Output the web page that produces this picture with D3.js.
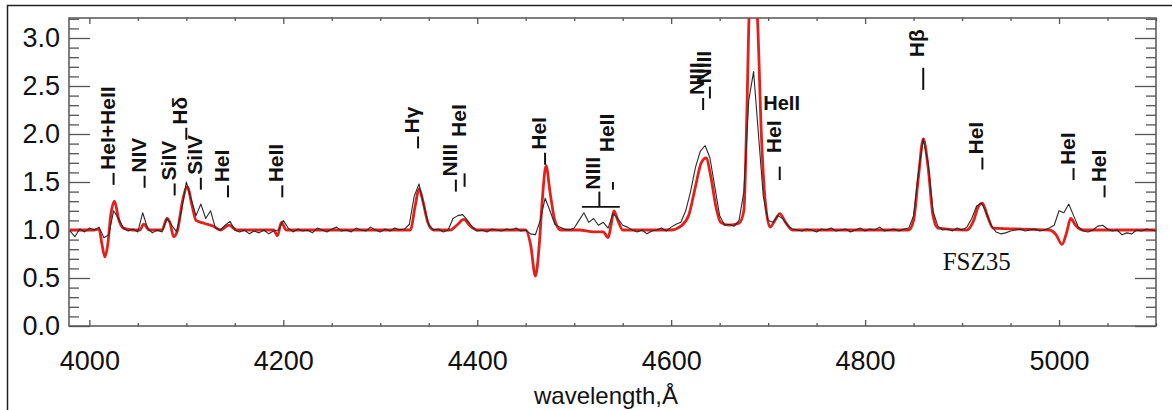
<!DOCTYPE html>
<html>
<head>
<meta charset="utf-8">
<script src="https://cdn.jsdelivr.net/npm/d3@7"></script>
<style>
  body { margin: 0; background: #fff; }
  svg { display: block; }
</style>
</head>
<body>
<div id="chart"></div>
<script>
// observed spectrum (black), 5 A steps
const obsWave = d3.range(3980, 5101, 5);
const obsFlux = [
  0.99, 0.93, 1.01, 0.98, 1.02, 1.00, 1.03, 0.92, 0.95, 1.20,
  1.12, 1.02, 0.99, 1.01, 0.98, 1.18, 1.02, 0.97, 1.00, 0.98,
  1.12, 1.05, 0.98, 1.20, 1.50, 1.32, 1.15, 1.27, 1.12, 1.20,
  1.02, 1.00, 1.05, 1.09, 1.00, 0.98, 1.00, 0.96, 0.99, 0.97,
  1.00, 0.96, 0.99, 1.00, 1.10, 1.02, 0.98, 1.01, 0.99, 1.00,
  0.97, 1.02, 1.00, 0.98, 1.01, 1.03, 0.99, 1.00, 0.98, 1.02,
  1.00, 0.99, 1.03, 1.00, 0.98, 1.01, 0.99, 1.02, 1.00, 1.01,
  1.06, 1.35, 1.48, 1.25, 1.05, 1.00, 1.01, 0.98, 1.00, 1.12,
  1.15, 1.16, 1.10, 1.03, 0.99, 1.00, 0.98, 1.01, 1.00, 0.99,
  1.01, 1.00, 1.02, 0.99, 1.00, 0.96, 0.95, 1.10, 1.33, 1.20,
  1.06, 1.03, 1.01, 1.00, 1.02, 1.10, 1.18, 1.08, 1.12, 1.05,
  1.08, 1.02, 1.17, 1.12, 1.05, 1.03, 1.00, 0.98, 1.00, 0.96,
  0.99, 1.00, 1.02, 0.99, 1.03, 1.06, 1.08, 1.20, 1.40, 1.65,
  1.82, 1.88, 1.75, 1.45, 1.15, 1.05, 1.06, 1.04, 1.10, 1.40,
  2.35, 2.65, 2.00, 1.35, 1.10, 1.08, 1.15, 1.12, 1.05, 1.01,
  1.00, 0.99, 1.01, 1.00, 0.98, 1.01, 1.00, 1.02, 0.99, 1.00,
  1.01, 0.98, 1.00, 1.02, 0.99, 1.01, 1.00, 1.03, 0.99, 1.00,
  1.01, 0.99, 1.01, 1.02, 1.15, 1.60, 1.95, 1.70, 1.20, 1.04,
  1.00, 1.01, 0.99, 1.02, 1.00, 1.03, 1.12, 1.25, 1.28, 1.18,
  1.05, 0.98, 0.96, 0.97, 0.99, 1.00, 1.01, 0.99, 1.00, 1.01,
  0.99, 1.00, 1.02, 1.05, 1.20, 1.18, 1.27, 1.15, 1.03, 0.99,
  0.98, 1.00, 1.04, 1.05, 1.01, 0.99, 1.00, 0.95, 0.97, 0.96,
  1.00, 0.99, 1.01, 1.00, 0.99
];

// model spectrum (red)
const modelWave = [
  3980, 4005, 4010, 4013, 4016, 4019, 4022, 4026, 4030, 4035,
  4045, 4052, 4056, 4062, 4075, 4080, 4083, 4087, 4091, 4096,
  4101, 4106, 4110, 4118, 4128, 4135, 4144, 4152, 4190, 4194,
  4198, 4203, 4325, 4331, 4336, 4340, 4344, 4349, 4355, 4372,
  4380, 4386, 4393, 4400, 4450, 4455, 4460, 4464, 4467, 4471,
  4475, 4480, 4486, 4505, 4520, 4530, 4535, 4538, 4541, 4545,
  4550, 4600, 4610, 4618, 4625, 4631, 4636, 4641, 4646, 4651,
  4660, 4670, 4675, 4678, 4681, 4685, 4689, 4693, 4697, 4702,
  4707, 4712, 4718, 4725, 4845, 4850, 4855, 4860, 4865, 4870,
  4875, 4905, 4912, 4917, 4921, 4926, 4932, 4990, 4997, 5003,
  5008, 5012, 5017, 5025, 5100
];
const modelFlux = [
  1.00, 1.00, 1.01, 0.85, 0.72, 0.85, 1.15, 1.30, 1.12, 1.02,
  1.00, 1.00, 1.06, 1.00, 1.00, 1.12, 1.08, 0.93, 1.00, 1.30,
  1.45, 1.25, 1.10, 1.07, 1.04, 1.00, 1.05, 1.00, 1.00, 0.94,
  1.08, 1.00, 1.00, 1.00, 1.25, 1.43, 1.30, 1.08, 1.00, 1.00,
  1.06, 1.11, 1.04, 1.00, 1.00, 0.85, 0.52, 0.85, 1.30, 1.67,
  1.40, 1.10, 1.00, 1.00, 0.98, 0.98, 0.92, 1.05, 1.20, 1.10,
  1.00, 1.00, 1.04, 1.15, 1.45, 1.70, 1.75, 1.55, 1.25, 1.08,
  1.05, 1.07, 1.20, 2.20, 3.40, 3.60, 3.20, 2.00, 1.30, 1.03,
  1.10, 1.17, 1.08, 1.00, 1.00, 1.10, 1.55, 1.95, 1.65, 1.15,
  1.02, 1.00, 1.10, 1.25, 1.28, 1.15, 1.02, 1.00, 0.95, 0.85,
  0.98, 1.12, 1.05, 1.00, 1.00
];

// line identifications (rotated); base = flux level where the label starts,
// hasTick = 1 when a short bar sits right under the text
const labelText = ["HeI+HeII", "NIV", "SiIV", "H\u03B4", "SiIV", "HeI", "HeII",
  "H\u03B3", "NIII", "HeI", "HeI", "NIII", "HeII", "NIII", "NIII", "HeI",
  "H\u03B2", "HeI", "HeI", "HeI"];
const labelWave = [4026, 4058, 4089, 4101, 4116, 4144, 4200,
  4340, 4379, 4388, 4471, 4527, 4541, 4634, 4641, 4713,
  4861, 4922, 5016, 5048];
const labelBase = [1.47, 1.44, 1.36, 1.94, 1.42, 1.34, 1.34,
  1.85, 1.40, 1.97, 1.68, 1.42, 1.81, 2.25, 2.37, 1.80,
  2.80, 1.63, 1.52, 1.34];
const labelTick = [1, 1, 1, 1, 1, 1, 1,
  1, 1, 0, 1, 0, 0, 1, 1, 0,
  0, 1, 1, 1];

// separate marker ticks [wave, low, high]
const markWave = [4388, 4541, 4713, 4861, 4527];
const markLow = [1.45, 1.42, 1.52, 2.46, 1.24];
const markHigh = [1.59, 1.50, 1.66, 2.69, 1.40];
// NIII blend bracket
const bracketWave = [4508, 4547];
const bracketFlux = 1.24;

const xTicks = [4000, 4200, 4400, 4600, 4800, 5000];
const yTicks = [0.0, 0.5, 1.0, 1.5, 2.0, 2.5, 3.0];

const W = 1172, H = 410;
const svg = d3.select("#chart").append("svg")
    .attr("width", W)
    .attr("height", H);

const x = d3.scaleLinear().domain([3979, 5100]).range([69, 1156]);
const y = d3.scaleLinear().domain([0, 3.2]).range([326, 18.8]);

// outer frame (left + top)
svg.append("path")
    .attr("d", "M7.5," + H + "V5.5H" + W)
    .attr("fill", "none")
    .attr("stroke", "#222")
    .attr("stroke-width", 1.5);

svg.append("defs").append("clipPath").attr("id", "clip")
    .append("rect")
    .attr("x", 69).attr("y", 18)
    .attr("width", 1156 - 69).attr("height", 326 - 18);

const axisColor = "#555";
function styleAxis(g) {
    g.select(".domain").remove();
    g.selectAll(".tick line").attr("stroke", axisColor).attr("stroke-width", 1.3);
    g.selectAll("text").attr("fill", "#111")
        .style("font-family", "'Liberation Sans', Arial, sans-serif")
        .style("font-size", "27px");
}

const yMinor = d3.range(0, 3.21, 0.1).filter(v => Math.abs(v * 2 - Math.round(v * 2)) > 0.01);
const xMinor = d3.range(4000, 5101, 50).filter(v => v % 200 !== 0);

// left axis
svg.append("g").attr("transform", "translate(69,0)")
    .call(d3.axisLeft(y).tickValues(yTicks).tickFormat(d3.format(".1f")).tickSize(-21).tickPadding(9))
    .call(styleAxis);
svg.append("g").attr("transform", "translate(69,0)")
    .call(d3.axisLeft(y).tickValues(yMinor).tickFormat("").tickSize(-10))
    .call(styleAxis);
// right axis
svg.append("g").attr("transform", "translate(1156,0)")
    .call(d3.axisRight(y).tickValues(yTicks).tickFormat("").tickSize(-21))
    .call(styleAxis);
svg.append("g").attr("transform", "translate(1156,0)")
    .call(d3.axisRight(y).tickValues(yMinor).tickFormat("").tickSize(-10))
    .call(styleAxis);
// bottom axis
svg.append("g").attr("transform", "translate(0,326)")
    .call(d3.axisBottom(x).tickValues(xTicks).tickFormat(d3.format("d")).tickSize(-6).tickPadding(25))
    .call(styleAxis);
svg.append("g").attr("transform", "translate(0,326)")
    .call(d3.axisBottom(x).tickValues(xMinor).tickFormat("").tickSize(-3))
    .call(styleAxis);
// top axis
svg.append("g").attr("transform", "translate(0,18)")
    .call(d3.axisTop(x).tickValues(xTicks).tickFormat("").tickSize(-6))
    .call(styleAxis);
svg.append("g").attr("transform", "translate(0,18)")
    .call(d3.axisTop(x).tickValues(xMinor).tickFormat("").tickSize(-3))
    .call(styleAxis);

// plot box
svg.append("rect")
    .attr("x", 69).attr("y", 18)
    .attr("width", 1156 - 69).attr("height", 326 - 18)
    .attr("fill", "none")
    .attr("stroke", axisColor)
    .attr("stroke-width", 1.5);

const plot = svg.append("g").attr("clip-path", "url(#clip)");

const modelLine = d3.line()
    .x((d, i) => x(modelWave[i]))
    .y(d => y(d))
    .curve(d3.curveMonotoneX);
plot.append("path")
    .datum(modelFlux)
    .attr("d", modelLine)
    .attr("fill", "none")
    .attr("stroke", "#e3211c")
    .attr("stroke-width", 2.8)
    .attr("stroke-linejoin", "round");

const obsLine = d3.line()
    .x((d, i) => x(obsWave[i]))
    .y(d => y(d));
plot.append("path")
    .datum(obsFlux)
    .attr("d", obsLine)
    .attr("fill", "none")
    .attr("stroke", "#2a2a2a")
    .attr("stroke-width", 1.1)
    .attr("stroke-linejoin", "round");

// line labels: short bar + rotated bold text
const tickLen = 12, tickGap = 3;
const labelFont = "'Liberation Sans', Arial, sans-serif";
const labels = svg.append("g");
labels.selectAll("line")
    .data(labelText.map((t, i) => i).filter(i => labelTick[i]))
    .join("line")
    .attr("x1", i => x(labelWave[i]) - 1).attr("x2", i => x(labelWave[i]) - 1)
    .attr("y1", i => y(labelBase[i]))
    .attr("y2", i => y(labelBase[i]) - tickLen)
    .attr("stroke", "#111")
    .attr("stroke-width", 2);
labels.selectAll("text")
    .data(labelText)
    .join("text")
    .attr("transform", (d, i) => "translate(" + x(labelWave[i]) + "," +
        (y(labelBase[i]) - (labelTick[i] ? tickLen + tickGap : 0)) + ") rotate(-90)")
    .style("font-family", labelFont)
    .style("font-weight", "bold")
    .style("font-size", "21px")
    .attr("fill", "#111")
    .text(d => d);

svg.append("g").selectAll("line")
    .data(markWave)
    .join("line")
    .attr("x1", d => x(d) - 1).attr("x2", d => x(d) - 1)
    .attr("y1", (d, i) => y(markLow[i]))
    .attr("y2", (d, i) => y(markHigh[i]))
    .attr("stroke", "#111")
    .attr("stroke-width", 2);

svg.append("line")
    .attr("x1", x(bracketWave[0])).attr("x2", x(bracketWave[1]))
    .attr("y1", y(bracketFlux)).attr("y2", y(bracketFlux))
    .attr("stroke", "#111")
    .attr("stroke-width", 1.8);

// horizontal HeII label next to 4686
svg.append("text")
    .attr("x", x(4695)).attr("y", y(2.25))
    .style("font-family", labelFont)
    .style("font-weight", "bold")
    .style("font-size", "20px")
    .attr("fill", "#111")
    .text("HeII");

// object name
svg.append("text")
    .attr("x", x(4880)).attr("y", y(0.58))
    .style("font-family", "'Liberation Serif', 'Times New Roman', serif")
    .style("font-size", "25px")
    .attr("fill", "#111")
    .text("FSZ35");

// x axis title
svg.append("text")
    .attr("x", 606).attr("y", 404)
    .attr("text-anchor", "middle")
    .style("font-family", "'Liberation Sans', Arial, sans-serif")
    .style("font-size", "24px")
    .attr("fill", "#111")
    .text("wavelength,\u00C5");
</script>
</body>
</html>
